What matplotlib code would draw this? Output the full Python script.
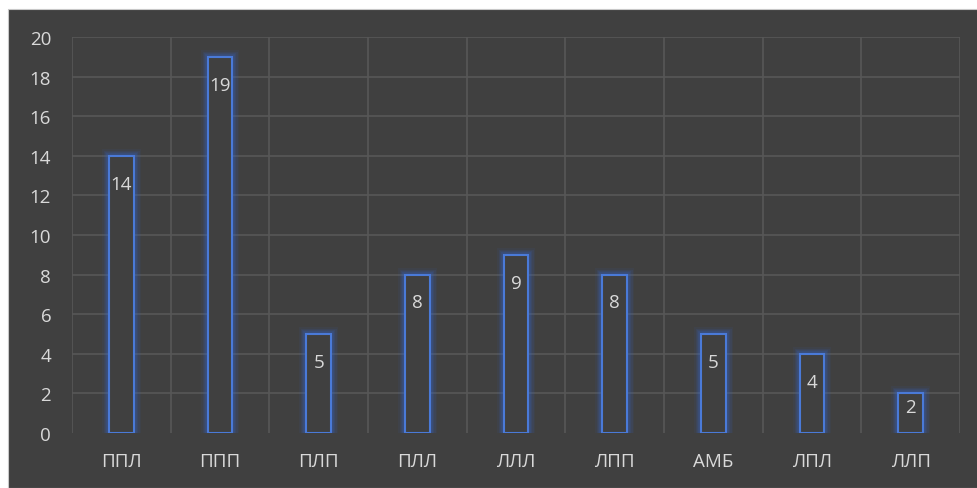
import numpy as np
import matplotlib.pyplot as plt
from matplotlib.patches import Rectangle

plt.rcParams['font.family'] = ['Open Sans', 'DejaVu Sans']

categories = ['ППЛ', 'ППП', 'ПЛП', 'ПЛЛ', 'ЛЛЛ', 'ЛПП', 'АМБ', 'ЛПЛ', 'ЛЛП']
counts = [14, 19, 5, 8, 9, 8, 5, 4, 2]

bg = '#404040'
grid_c = '#575757'
text_c = '#d9d9d9'
blue = '#4a7ad8'

fig = plt.figure(figsize=(9.78, 4.89), dpi=100, facecolor='white')
# dark panel behind the chart, leaving a thin white margin top/left
fig.patches.append(Rectangle((8 / 978, 0), 1, 1 - 10 / 489, transform=fig.transFigure,
                             facecolor=bg, edgecolor='#c8c8c8', linewidth=0.8, zorder=-10))

ax = fig.add_axes([72 / 978, 1 - 434 / 489, 888 / 978, 396 / 489])
ax.set_facecolor(bg)
ax.patch.set_alpha(0)

x = np.arange(len(categories))
ax.set_xlim(-0.5, len(categories) - 0.5)
ax.set_ylim(0, 20)
ax.set_yticks(np.arange(0, 21, 2))
ax.set_xticks(x)
ax.set_xticklabels(categories)

# grid lines
for yv in range(2, 21, 2):
    ax.axhline(yv, color=grid_c, lw=1.2, zorder=1)
for xv in np.arange(-0.5, len(categories), 1.0):
    ax.axvline(xv, color=grid_c, lw=1.2, zorder=1)

w = 0.25
for xi, v in zip(x, counts):
    # soft glow around the outline
    for lw, a in [(10, 0.07), (8, 0.09), (6, 0.13), (4, 0.2)]:
        ax.add_patch(Rectangle((xi - w / 2, 0), w, v, facecolor='none',
                               edgecolor='#3567d0', linewidth=lw, alpha=a, zorder=2))
    ax.add_patch(Rectangle((xi - w / 2, 0), w, v, facecolor=bg,
                           edgecolor=blue, linewidth=1.5, zorder=3))
    ty = max(v - 1.4, 0.65 * v)
    ax.text(xi, ty, str(v), ha='center', va='center', color=text_c,
            fontsize=13.5, zorder=4)

for s in ax.spines.values():
    s.set_visible(False)
ax.tick_params(length=0, colors=text_c, labelsize=13.5)
ax.tick_params(axis='y', pad=15)
ax.tick_params(axis='x', pad=14)

fig.savefig('out.png', dpi=100, facecolor='white')
